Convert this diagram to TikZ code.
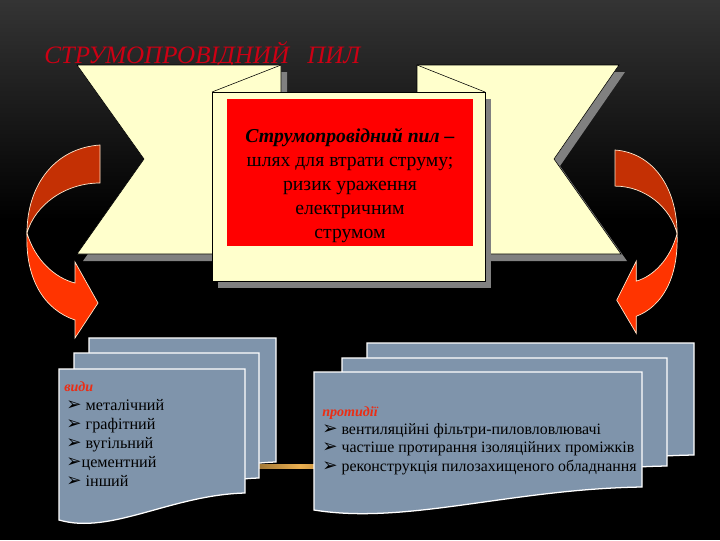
\documentclass[tikz,border=0pt]{standalone}
\usepackage{fontspec}
\setmainfont{Liberation Serif}
\newfontfamily\symfont{DejaVu Sans}

\definecolor{bgtop}{RGB}{52,52,52}
\definecolor{glow}{RGB}{235,175,80}
\definecolor{cream}{RGB}{255,255,204}
\definecolor{shadowgray}{RGB}{128,128,128}
\definecolor{boxred}{RGB}{255,0,0}
\definecolor{titlered}{RGB}{205,0,20}
\definecolor{labelred}{RGB}{235,45,20}
\definecolor{sheetblue}{RGB}{127,148,171}
\definecolor{arrowdark}{RGB}{196,48,4}
\definecolor{arrowlight}{RGB}{255,52,0}
\definecolor{arrowedge}{RGB}{255,232,205}

\newcommand{\bul}{{\symfont\fontsize{13}{13}\selectfont\char"27A2}}

% one sheet of a stack: x1, y1, x2, bottom right y, bottom left y
\newcommand{\docsheet}[5]{%
  \filldraw[sheet] (#1,#2) -- (#3,#2) -- (#3,#4)
    .. controls ({#3-0.4*(#3-#1)},{#4+2}) and ({#1+0.28*(#3-#1)},{#5+15}) .. (#1,#5) -- cycle;}

% bent arrow, tail at the origin
\newcommand{\bentarrow}{%
  \filldraw[arrowline, fill=arrowdark] (0,0) .. controls (-45,3) and (-73,40) .. (-73,88)
    .. controls (-65,60) and (-35,38) .. (0,38) -- cycle;
  \filldraw[arrowline, fill=arrowlight] (-73,88) .. controls (-65,115) and (-45,133) .. (-25,138)
    -- (-25,117) -- (-2,158) -- (-25,193) -- (-25,175)
    .. controls (-55,165) and (-75,135) .. (-73,88) -- cycle;}

\tikzset{
  panel/.style={fill=cream, draw=black, line width=0.4pt},
  sheet/.style={fill=sheetblue, draw=white, line width=0.9pt},
  arrowline/.style={draw=arrowedge, line width=0.5pt},
  titletext/.style={anchor=base west, inner sep=0pt, text=titlered,
    font=\fontsize{17.8}{21}\selectfont\itshape},
  boxtext/.style={anchor=north, inner sep=0pt, align=center,
    font=\fontsize{14}{17}\selectfont},
  listhead/.style={anchor=base west, inner sep=0pt, text=labelred,
    font=\fontsize{10}{12}\selectfont\bfseries\itshape},
  leftitem/.style={anchor=base west, inner sep=0pt, font=\fontsize{11.5}{13.5}\selectfont},
  rightitem/.style={anchor=base west, inner sep=0pt, font=\fontsize{11.3}{13}\selectfont}
}

\begin{document}
\begin{tikzpicture}[x=0.025cm, y=-0.025cm]
  % \draw[help lines, step=40] (0,0) grid (720,540);
  \useasboundingbox (0,0) rectangle (720,540);
  \fill[black] (0,0) rectangle (720,540);
  \shade[top color=bgtop, bottom color=black] (0,0) rectangle (720,220);
  \shade[left color=black, right color=glow] (170,464) rectangle (300,468);
  \shade[left color=glow, right color=black] (300,464) rectangle (430,468);

  \node[titletext] (title) at (44,63) {СТРУМОПРОВІДНИЙ\hspace{13pt}ПИЛ};

  % ribbon
  \fill[shadowgray] (83,72) -- (287,72) -- (287,261) -- (83,261) -- (150,166) -- cycle;
  \fill[shadowgray] (423,72) -- (625,72) -- (560,166) -- (627,261) -- (423,261) -- cycle;
  \filldraw[panel] (77,65) -- (281,65) -- (281,254) -- (77,254) -- (144,159) -- cycle;
  \filldraw[panel] (417,65) -- (619,65) -- (554,159) -- (621,254) -- (417,254) -- cycle;
  \draw (281,65) -- (212,92);
  \draw (417,65) -- (485,92);
  \fill[shadowgray] (218,99) rectangle (491,288);
  \filldraw[panel] (212,92) rectangle (485,281);
  \fill[boxred] (227,99) rectangle (473,246);
  \node[boxtext] (defn) at (350,128) {\textbf{\textit{Струмопровідний пил –}}\\
    шлях для втрати струму;\\ризик ураження\\електричним\\струмом};

  % arrows
  \begin{scope}[shift={(100,145)}]
    \bentarrow
  \end{scope}
  \begin{scope}[shift={(615,150)}, xscale=-0.85, yscale=0.95]
    \bentarrow
  \end{scope}

  % left stack
  \docsheet{89}{338}{276}{462}{489}
  \docsheet{74}{353}{259}{478}{505}
  \docsheet{59}{369}{245}{493}{520}
  \node[listhead] (kinds) at (64,391) {види};
  \node[leftitem] (kind1) at (66,410) {\bul\ металічний};
  \node[leftitem] (kind2) at (66,429) {\bul\ графітний};
  \node[leftitem] (kind3) at (66,448) {\bul\ вугільний};
  \node[leftitem] (kind4) at (66,467) {\bul цементний};
  \node[leftitem] (kind5) at (66,486) {\bul\ інший};

  % right stack
  \docsheet{367}{343}{694}{455}{478}
  \docsheet{342}{358}{667}{466}{489}
  \docsheet{314}{372}{642}{487}{510}
  \node[listhead] (measures) at (322,416) {протидії};
  \node[rightitem] (meas1) at (322,434) {\bul\ вентиляційні фільтри-пиловловлювачі};
  \node[rightitem] (meas2) at (322,452) {\bul\ частіше протирання ізоляційних проміжків};
  \node[rightitem] (meas3) at (322,471) {\bul\ реконструкція пилозахищеного обладнання};
\end{tikzpicture}
\end{document}
